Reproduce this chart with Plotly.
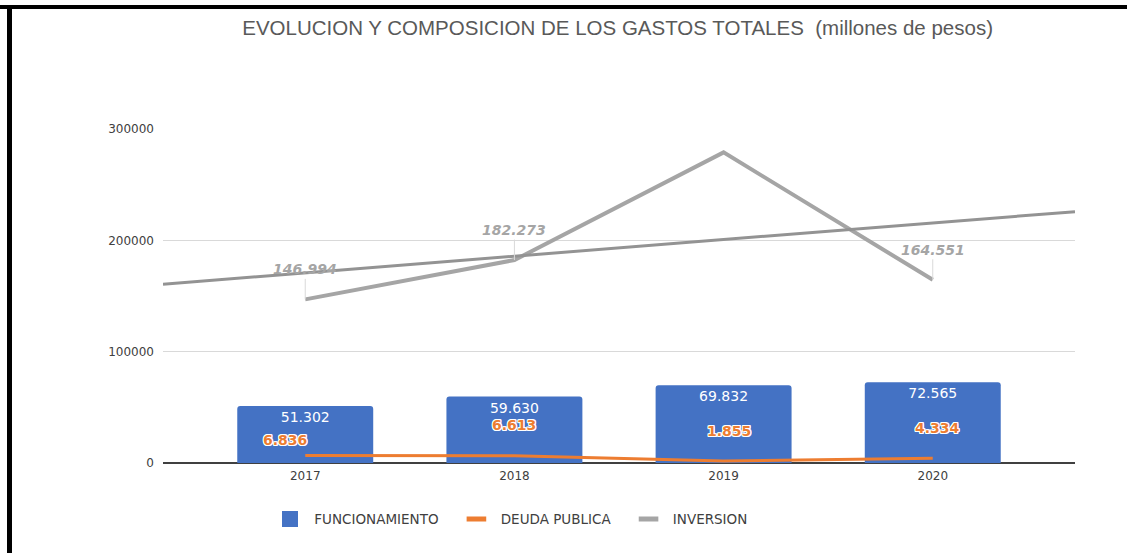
import numpy as np
import plotly.graph_objects as go

# datos (millones de pesos)
years = ["2017", "2018", "2019", "2020"]
funcionamiento = [51302, 59630, 69832, 72565]
deuda_publica = [6836, 6613, 1855, 4334]
inversion = [146994, 182273, 279000, 164551]
inversion_labeled = [True, True, False, True]

y_ticks = [0, 100000, 200000, 300000]

BLUE = "#4472C4"
ORANGE = "#ED7D31"
GRAY = "#A5A5A5"
FONT = "DejaVu Sans"
NB = "\u00a0"

xs = list(range(len(years)))
x_range = [-0.68, len(years) - 1 + 0.68]


def fmt(v):
    return f"{v:,}".replace(",", ".")


fig = go.Figure()

fig.add_trace(go.Bar(
    x=xs,
    y=funcionamiento,
    name="FUNCIONAMIENTO",
    marker=dict(color=BLUE, line=dict(width=0)),
    width=0.65,
    texttemplate="%{y:,}",
    textposition="inside",
    insidetextanchor="end",
    textangle=0,
    textfont=dict(color="white", size=14, family=FONT),
    showlegend=False,
))

fig.add_trace(go.Scatter(
    x=xs,
    y=deuda_publica,
    name="DEUDA PUBLICA",
    mode="lines",
    line=dict(color=ORANGE, width=3),
    showlegend=False,
))

fig.add_trace(go.Scatter(
    x=xs,
    y=inversion,
    name="INVERSION",
    mode="lines",
    line=dict(color=GRAY, width=4),
    showlegend=False,
))

# linea de tendencia lineal de inversion
slope, intercept = np.polyfit(xs, inversion, 1)
fig.add_trace(go.Scatter(
    x=x_range,
    y=[slope * x + intercept for x in x_range],
    mode="lines",
    line=dict(color="#939393", width=3),
    showlegend=False,
    hoverinfo="skip",
))

# entradas de leyenda (simbolos como en Excel)
fig.add_trace(go.Scatter(
    x=[None], y=[None], mode="markers", name=NB + "FUNCIONAMIENTO" + NB * 3,
    marker=dict(symbol="square", size=18, color=BLUE),
))
for name, color in [("DEUDA PUBLICA", ORANGE), ("INVERSION", GRAY)]:
    fig.add_trace(go.Scatter(
        x=[None], y=[None], mode="markers", name=NB + name + NB * 3,
        marker=dict(symbol="line-ew", size=14,
                    line=dict(color=color, width=5)),
    ))

annotations = []

# etiquetas de deuda publica
deuda_shift = [(-20, 15), (0, 31), (5, 30), (5, 30)]
outline = ("white 1px 1px 0px, white -1px -1px 0px, white 1px -1px 0px, "
           "white -1px 1px 0px, white 0px 1px 0px, white 0px -1px 0px, "
           "white 1px 0px 0px, white -1px 0px 0px")
for x, v, (dx, dy) in zip(xs, deuda_publica, deuda_shift):
    annotations.append(dict(
        x=x, y=v, text=fmt(v), showarrow=False,
        xshift=dx, yshift=dy,
        font=dict(color=ORANGE, size=14, family=FONT, weight="bold",
                  shadow=outline),
    ))

# etiquetas de inversion
for x, v, show in zip(xs, inversion, inversion_labeled):
    if not show:
        continue
    annotations.append(dict(
        x=x, y=v, text=fmt(v), showarrow=True,
        arrowhead=0, arrowwidth=1, arrowcolor="#d9d9d9",
        ax=0, ay=-30,
        font=dict(color=GRAY, size=14, family=FONT, weight="bold",
                  style="italic"),
    ))

fig.update_layout(
    width=1127,
    height=553,
    margin=dict(l=163, r=52, t=129, b=90),
    paper_bgcolor="white",
    plot_bgcolor="white",
    separators=",.",
    barcornerradius=3,
    font=dict(family=FONT, color="#595959"),
    title=dict(
        text="EVOLUCION Y COMPOSICION DE LOS GASTOS TOTALES  (millones de pesos)",
        x=0.548, xanchor="center", y=0.95, yanchor="middle",
        font=dict(family="Liberation Sans", size=20.5, color="#595959"),
    ),
    xaxis=dict(
        range=x_range,
        tickvals=xs,
        ticktext=years,
        showgrid=False,
        zeroline=False,
        showline=False,
        ticklabelstandoff=4,
        tickfont=dict(size=12, color="#404040"),
        fixedrange=True,
    ),
    yaxis=dict(
        range=[0, 300000],
        tickvals=y_ticks,
        tickformat="d",
        showgrid=True,
        gridcolor="#d9d9d9",
        gridwidth=1,
        zeroline=True,
        zerolinecolor="#404040",
        zerolinewidth=1.5,
        showline=False,
        ticklabelstandoff=8,
        tickfont=dict(size=12, color="#404040"),
        fixedrange=True,
    ),
    legend=dict(
        orientation="h",
        x=(270 - 163) / 912, xanchor="left",
        y=-0.168, yanchor="middle",
        font=dict(size=13.5, color="#404040"),
        traceorder="normal",
    ),
    annotations=annotations,
    shapes=[
        dict(type="line", xref="paper", yref="paper",
             x0=-163 / 912, x1=1 + 52 / 912 + 0.01,
             y0=1 + 122 / 334, y1=1 + 122 / 334,
             line=dict(color="black", width=4)),
        dict(type="line", xref="paper", yref="paper",
             x0=-153.5 / 912, x1=-153.5 / 912,
             y0=1 + 124 / 334, y1=-0.3,
             line=dict(color="black", width=5)),
    ],
)

fig.write_html("out.html", config={"displayModeBar": False},
               post_script="document.body.style.margin='0';")
